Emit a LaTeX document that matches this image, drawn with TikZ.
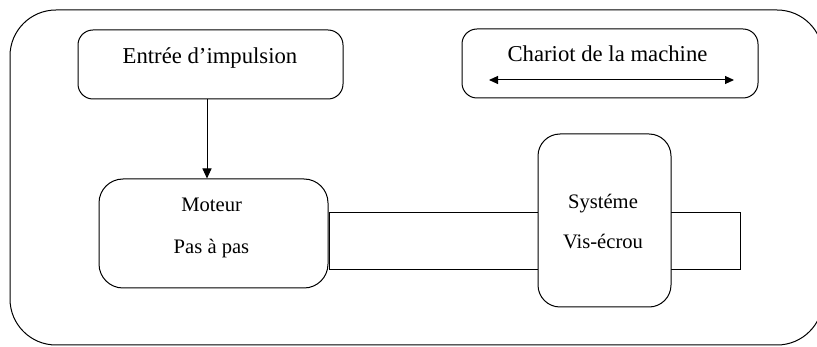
\documentclass[tikz,border=0pt]{standalone}
\usepackage{fontspec}
\setmainfont{Liberation Serif}
\usetikzlibrary{arrows.meta}
\begin{document}
\begin{tikzpicture}[x=1pt, y=-1pt, line width=1pt,
  box/.style={draw, rounded corners=#1, inner sep=0pt, fill=white},
  box/.default=15pt,
  bigtext/.style={anchor=base, inner sep=0pt, font=\fontsize{22.7}{27}\selectfont},
  smalltext/.style={anchor=base, inner sep=0pt, font=\fontsize{20.6}{25}\selectfont},
  tip/.style={-{Triangle[length=10pt, width=9pt]}},
  dtip/.style={{Triangle[length=9pt, width=8pt]}-{Triangle[length=9pt, width=8pt]}}]
\useasboundingbox (0,0) rectangle (817,347);
\clip (0,0) rectangle (817,347);

% outer frame
\node[draw, rounded corners=46pt, minimum width=813pt, minimum height=335pt, inner sep=0pt]
  (frame) at (416.5,177.5) {};

% top boxes
\node[box=15pt, minimum width=265pt, minimum height=69pt] (entree) at (210.5,64.5) {};
\node[bigtext] (entreetxt) at (210,63.3) {Entrée d’impulsion};

\node[box=15pt, minimum width=296pt, minimum height=69pt] (chariot) at (610,63.5) {};
\node[bigtext] (chariottxt) at (607.5,61.7) {Chariot de la machine};
\coordinate (ca) at (489,80);
\coordinate (cb) at (734,80);
\draw[dtip] (ca) -- (cb);

% lead screw
\node[draw, inner sep=0pt, minimum width=411pt, minimum height=57pt] (vis) at (534.5,241.5) {};

% motor
\node[box=24pt, minimum width=229pt, minimum height=109pt] (moteur) at (213.5,233.5) {};
\node[smalltext] (moteur1) at (211.7,211.7) {Moteur};
\node[smalltext] (moteur2) at (211.5,253.3) {Pas à pas};

% screw-nut system
\node[box=22pt, minimum width=133pt, minimum height=173pt] (systeme) at (604.5,220.5) {};
\node[smalltext] (systeme1) at (603,208.3) {Systéme};
\node[smalltext] (systeme2) at (603,248.3) {Vis-écrou};

% pulse input to motor
\coordinate (ax) at (207,0);
\draw[tip] (entree.south -| ax) -- (moteur.north -| ax);
\end{tikzpicture}
\end{document}
